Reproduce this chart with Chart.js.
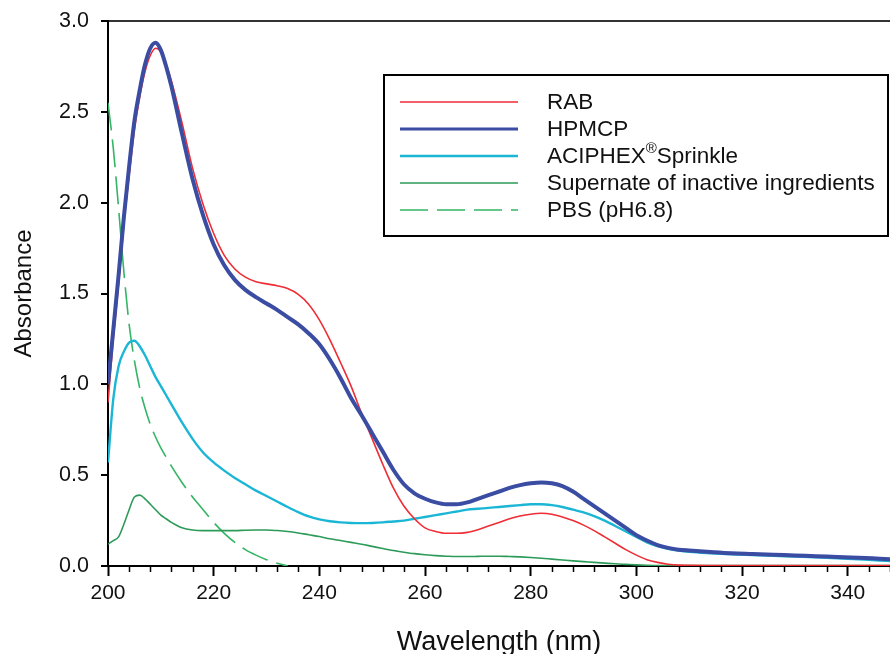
<!DOCTYPE html>
<html>
<head>
<meta charset="utf-8">
<script src="https://cdn.jsdelivr.net/npm/chart.js@4.4.1/dist/chart.umd.min.js"></script>
<style>
  html, body { margin: 0; padding: 0; background: #fff; }
  #wrap { width: 890px; height: 654px; position: relative; }
</style>
</head>
<body>
<div id="wrap"><canvas id="chart"></canvas></div>
<script>
// Wavelength grid (nm) shared by all spectra
const wavelengths = [200, 201, 202, 203, 204, 205, 206, 207, 208, 209, 210, 211, 212, 214, 216, 218, 220, 222, 224, 226,
  228, 230, 232, 234, 236, 238, 240, 242, 244, 246, 248, 250, 252, 254, 256, 258, 260, 262, 264, 266,
  268, 270, 272, 274, 276, 278, 280, 282, 284, 286, 288, 290, 292, 294, 296, 298, 300, 302, 304, 306,
  308, 310, 314, 318, 322, 326, 330, 334, 338, 342, 346, 348]

const rabAbs = [0.90, 1.25, 1.55, 1.88, 2.15, 2.40, 2.58, 2.72, 2.81, 2.85, 2.83, 2.76, 2.67, 2.44, 2.19, 1.99, 1.83, 1.71, 1.635, 1.59,
  1.565, 1.553, 1.543, 1.527, 1.495, 1.44, 1.355, 1.245, 1.12, 0.99, 0.84, 0.70, 0.56, 0.43, 0.33, 0.26, 0.21, 0.19, 0.18, 0.18,
  0.185, 0.20, 0.22, 0.24, 0.26, 0.275, 0.285, 0.29, 0.285, 0.27, 0.25, 0.225, 0.195, 0.16, 0.125, 0.09, 0.06, 0.035, 0.02, 0.01,
  0.005, 0.004, 0.003, 0.003, 0.003, 0.003, 0.003, 0.003, 0.003, 0.003, 0.003, 0.003]

const hpmcpAbs = [1.00, 1.30, 1.60, 1.92, 2.20, 2.45, 2.62, 2.76, 2.85, 2.88, 2.84, 2.75, 2.64, 2.38, 2.13, 1.93, 1.77, 1.655, 1.575, 1.52,
  1.48, 1.445, 1.41, 1.37, 1.33, 1.28, 1.22, 1.135, 1.035, 0.925, 0.83, 0.73, 0.63, 0.53, 0.45, 0.40, 0.37, 0.35, 0.34, 0.34,
  0.35, 0.37, 0.39, 0.41, 0.43, 0.445, 0.455, 0.46, 0.455, 0.44, 0.41, 0.37, 0.33, 0.29, 0.25, 0.21, 0.17, 0.14, 0.115, 0.10,
  0.09, 0.085, 0.077, 0.07, 0.066, 0.062, 0.058, 0.054, 0.05, 0.046, 0.04, 0.037]

const aciphexAbs = [0.57, 0.92, 1.10, 1.18, 1.23, 1.24, 1.21, 1.16, 1.10, 1.04, 0.99, 0.94, 0.89, 0.79, 0.70, 0.625, 0.57, 0.525, 0.485, 0.45,
  0.415, 0.385, 0.355, 0.325, 0.297, 0.273, 0.257, 0.246, 0.24, 0.237, 0.236, 0.237, 0.24, 0.245, 0.25, 0.26, 0.27, 0.28, 0.29, 0.30,
  0.31, 0.315, 0.32, 0.325, 0.33, 0.335, 0.34, 0.34, 0.335, 0.325, 0.31, 0.295, 0.275, 0.25, 0.22, 0.19, 0.16, 0.13, 0.11, 0.095,
  0.085, 0.078, 0.07, 0.064, 0.06, 0.056, 0.052, 0.048, 0.043, 0.037, 0.03, 0.027]

const supernateAbs = [0.12, 0.14, 0.16, 0.23, 0.31, 0.38, 0.39, 0.37, 0.34, 0.31, 0.28, 0.26, 0.24, 0.21, 0.198, 0.195, 0.195, 0.195, 0.195, 0.197,
  0.198, 0.198, 0.195, 0.19, 0.182, 0.172, 0.162, 0.15, 0.14, 0.13, 0.12, 0.108, 0.096, 0.085, 0.076, 0.068, 0.062, 0.057, 0.054, 0.052,
  0.052, 0.053, 0.054, 0.054, 0.052, 0.05, 0.047, 0.043, 0.038, 0.033, 0.028, 0.024, 0.02, 0.016, 0.012, 0.009, 0.006, 0.004, 0.003, 0.003,
  0.003, 0.003, 0.003, 0.003, 0.003, 0.003, 0.003, 0.003, 0.003, 0.003, 0.003, 0.003]

const pbsAbs = [2.55, 2.30, 1.97, 1.62, 1.33, 1.13, 0.98, 0.87, 0.78, 0.71, 0.65, 0.60, 0.55, 0.46, 0.38, 0.31, 0.24, 0.18, 0.13, 0.09,
  0.06, 0.035, 0.015, 0.0, null, null, null, null, null, null, null, null, null, null, null, null, null, null, null, null,
  null, null, null, null, null, null, null, null, null, null, null, null, null, null, null, null, null, null, null, null,
  null, null, null, null, null, null, null, null, null, null, null, null]

const seriesLabels = ['RAB', 'HPMCP', 'ACIPHEX®Sprinkle', 'Supernate of inactive ingredients', 'PBS (pH6.8)']
const xTickValues = [200, 220, 240, 260, 280, 300, 320, 340]
const yTickValues = [0, 0.5, 1.0, 1.5, 2.0, 2.5, 3.0]
const xMin = 200
const xMax = 348
const minorStep = 4

const FONT = '"Liberation Sans", Arial, sans-serif'

function toPoints(values) {
  return wavelengths
    .map((x, i) => ({ x, y: values[i] }))
    .filter(p => p.y !== null)
}

// Minor ticks every 4 nm on the x axis
const minorTicks = {
  id: 'minorTicks',
  afterDraw(chart) {
    const { ctx, scales: { x } } = chart
    ctx.save()
    ctx.strokeStyle = '#000'
    ctx.lineWidth = 1.5
    for (let v = xMin; v <= xMax; v += minorStep) {
      if (v % 20 === 0) continue
      const px = Math.round(x.getPixelForValue(v)) + 0.5
      ctx.beginPath()
      ctx.moveTo(px, x.top)
      ctx.lineTo(px, x.top + 6)
      ctx.stroke()
    }
    ctx.restore()
  }
}

// Boxed legend inside the plot
const boxLegend = {
  id: 'boxLegend',
  afterDraw(chart) {
    const { ctx } = chart
    const box = { left: 384, top: 75, right: 888, bottom: 236 }
    ctx.save()
    ctx.fillStyle = '#fff'
    ctx.fillRect(box.left, box.top, box.right - box.left, box.bottom - box.top)
    ctx.strokeStyle = '#000'
    ctx.lineWidth = 2
    ctx.strokeRect(box.left, box.top, box.right - box.left, box.bottom - box.top)

    const rowY = [102, 129, 156, 183, 210]
    chart.data.datasets.forEach((ds, i) => {
      const y = rowY[i]
      ctx.strokeStyle = ds.borderColor
      ctx.lineWidth = Math.min(ds.borderWidth, 3)
      ctx.setLineDash(ds.borderDash || [])
      ctx.beginPath()
      ctx.moveTo(400, y)
      ctx.lineTo(518, y)
      ctx.stroke()
      ctx.setLineDash([])

      ctx.fillStyle = '#111'
      ctx.textBaseline = 'middle'
      ctx.font = '22.5px ' + FONT
      const parts = ds.label.split('®')
      let tx = 547
      ctx.fillText(parts[0], tx, y + 1)
      if (parts.length > 1) {
        tx += ctx.measureText(parts[0]).width
        ctx.font = '15px ' + FONT
        ctx.fillText('®', tx, y - 7)
        tx += ctx.measureText('®').width
        ctx.font = '22.5px ' + FONT
        ctx.fillText(parts[1], tx, y + 1)
      }
    })
    ctx.restore()
  }
}

const ctx = document.getElementById('chart').getContext('2d')

new Chart(ctx, {
  type: 'line',
  data: {
    datasets: [
      { label: seriesLabels[0], data: toPoints(rabAbs), borderColor: '#ee2d34', borderWidth: 1.6, order: 1 },
      { label: seriesLabels[1], data: toPoints(hpmcpAbs), borderColor: '#3b4da3', borderWidth: 4, order: 0 },
      { label: seriesLabels[2], data: toPoints(aciphexAbs), borderColor: '#1bb6d6', borderWidth: 2.4, order: 2 },
      { label: seriesLabels[3], data: toPoints(supernateAbs), borderColor: '#2c9a58', borderWidth: 1.6, order: 3 },
      { label: seriesLabels[4], data: toPoints(pbsAbs), borderColor: '#34b565', borderWidth: 1.6, borderDash: [28, 9], order: 4 }
    ]
  },
  options: {
    responsive: true,
    maintainAspectRatio: false,
    animation: false,
    layout: { padding: { top: 21, right: 0, bottom: 0, left: 0 } },
    elements: {
      point: { radius: 0 },
      line: { cubicInterpolationMode: 'monotone', fill: false }
    },
    plugins: {
      legend: { display: false },
      tooltip: { enabled: false }
    },
    scales: {
      x: {
        type: 'linear',
        min: xMin,
        max: xMax,
        afterBuildTicks: s => { s.ticks = xTickValues.map(v => ({ value: v })) },
        afterFit: s => { s.height = 88 },
        border: { display: true, color: '#000', width: 2 },
        grid: { drawOnChartArea: false, tickLength: 10, tickColor: '#000', tickWidth: 2 },
        ticks: {
          color: '#111',
          padding: 5,
          maxRotation: 0,
          font: { family: FONT, size: 21 },
          callback: v => String(v)
        },
        title: {
          display: true,
          text: 'Wavelength (nm)',
          color: '#111',
          font: { family: FONT, size: 27, lineHeight: 0.85 },
          padding: { top: 0, bottom: 0 }
        }
      },
      y: {
        min: 0,
        max: 3,
        afterBuildTicks: s => { s.ticks = yTickValues.map(v => ({ value: v })) },
        afterFit: s => {
          s.width = 108
          // label padding should not push the plot area down
          s.paddingTop = 0
          s.paddingBottom = 0
        },
        border: { display: true, color: '#000', width: 2 },
        grid: {
          drawOnChartArea: true,
          tickLength: 7,
          tickColor: '#000',
          tickWidth: 2,
          lineWidth: 2,
          // only the top line (3.0) is drawn across, closing the frame
          color: c => (c.tick && c.tick.value === 3 ? '#333' : 'rgba(0,0,0,0)')
        },
        ticks: {
          color: '#111',
          padding: 12,
          font: { family: FONT, size: 21.5 },
          callback: v => Number(v).toFixed(1)
        },
        title: {
          display: true,
          text: 'Absorbance',
          color: '#111',
          font: { family: FONT, size: 24 },
          padding: { top: 10, bottom: 0 }
        }
      }
    }
  },
  plugins: [minorTicks, boxLegend]
})
</script>
</body>
</html>
